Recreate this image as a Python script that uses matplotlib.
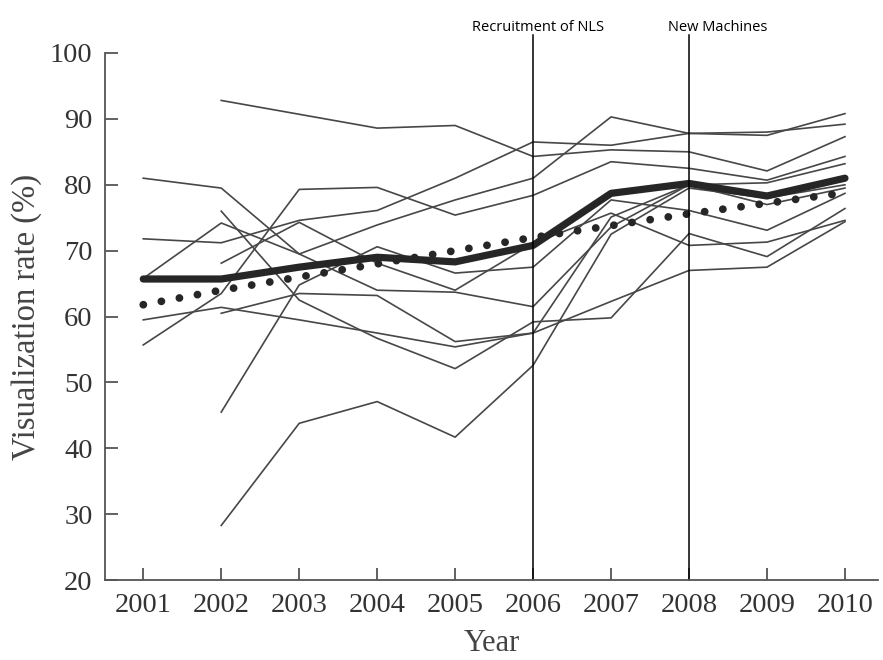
import numpy as np
import matplotlib
matplotlib.use("Agg")
import matplotlib.pyplot as plt
import matplotlib.transforms as mtransforms

nan = np.nan
years = [2001, 2002, 2003, 2004, 2005, 2006, 2007, 2008, 2009, 2010]

# individual units (thin lines)
unit_1 = [nan, 92.8, 90.7, 88.6, 89.0, 84.3, 85.3, 85.0, 82.1, 87.3]
unit_2 = [81.0, 79.5, 69.5, 64.0, 63.7, 61.5, 73.6, 80.0, 77.0, 79.5]
unit_3 = [71.8, 71.2, 74.6, 76.1, 81.0, 86.5, 86.0, 87.8, 87.5, 90.8]
unit_4 = [65.8, 74.2, 69.5, 73.9, 77.7, 81.0, 90.3, 87.8, 88.0, 89.2]
unit_5 = [59.5, 61.4, 59.5, 57.5, 55.4, 57.5, 75.1, 80.0, 80.3, 83.2]
unit_6 = [55.7, 63.5, 79.3, 79.6, 75.4, 78.4, 83.5, 82.5, 80.7, 84.3]
unit_7 = [nan, 45.5, 64.8, 70.6, 66.6, 67.5, 77.7, 76.1, 73.1, 78.7]
unit_8 = [nan, 28.3, 43.8, 47.1, 41.7, 52.6, 72.5, 79.5, 78.0, 80.0]
unit_9 = [nan, 76.0, 62.5, 56.7, 52.1, 59.2, 59.8, 72.6, 69.1, 76.4]
unit_10 = [nan, 68.1, 74.3, 68.1, 64.0, 71.1, 75.7, 70.8, 71.3, 74.6]
unit_11 = [nan, 60.5, 63.5, 63.2, 56.2, 57.5, 62.3, 67.0, 67.5, 74.4]
units = [unit_1, unit_2, unit_3, unit_4, unit_5, unit_6,
         unit_7, unit_8, unit_9, unit_10, unit_11]

mean_rate = [65.7, 65.7, 67.5, 69.0, 68.3, 70.8, 78.7, 80.2, 78.3, 81.0]
trend_rate = [61.8, 64.0, 66.0, 68.0, 70.0, 72.0, 73.8, 75.6, 77.2, 78.8]

events = [2006, 2008]
event_labels = ["Recruitment of NLS", "New Machines"]
event_label_x = [2006.06, 2008.37]

fig = plt.figure(figsize=(8.83, 6.6), dpi=100)
ax = fig.add_axes([0.119, 0.121, 0.875, 0.7987])

for u in units:
    ax.plot(years, u, color="#474747", linewidth=1.2)

ax.plot(years, mean_rate, color="#262626", linewidth=5.2,
        solid_capstyle="round", solid_joinstyle="round")
ax.plot(years, trend_rate, color="#262626", linewidth=5.6,
        dashes=(0.01, 2.35), dash_capstyle="round")

trans = mtransforms.blended_transform_factory(ax.transData, ax.transAxes)
for x, lab, lx in zip(events, event_labels, event_label_x):
    ax.axvline(x, ymin=0, ymax=1.035, color="black", linewidth=1.1, clip_on=False)
    ax.text(lx, 1.048, lab, transform=trans, ha="center", va="center",
            fontsize=10.5, family="Open Sans", color="black")

ax.set_xlim(2000.51, 2010.42)
ax.set_ylim(20, 100)
ax.set_xticks(years)
ax.set_yticks(range(20, 101, 10))
ax.spines["top"].set_visible(False)
ax.spines["right"].set_visible(False)
for s in ["left", "bottom"]:
    ax.spines[s].set_color("#555555")
    ax.spines[s].set_linewidth(1.3)
ax.tick_params(direction="in", length=9, width=1.3, color="#555555",
               labelsize=20.5, labelcolor="#333333", pad=9)
for lab in ax.get_xticklabels() + ax.get_yticklabels():
    lab.set_family("Liberation Serif")

ax.set_xlabel("Year", fontsize=22, family="Liberation Serif", color="#444444", labelpad=8)
ax.set_ylabel("Visualization rate (%)", fontsize=23.5, family="Liberation Serif",
              color="#444444", labelpad=6)

fig.savefig("out.png", dpi=100)
